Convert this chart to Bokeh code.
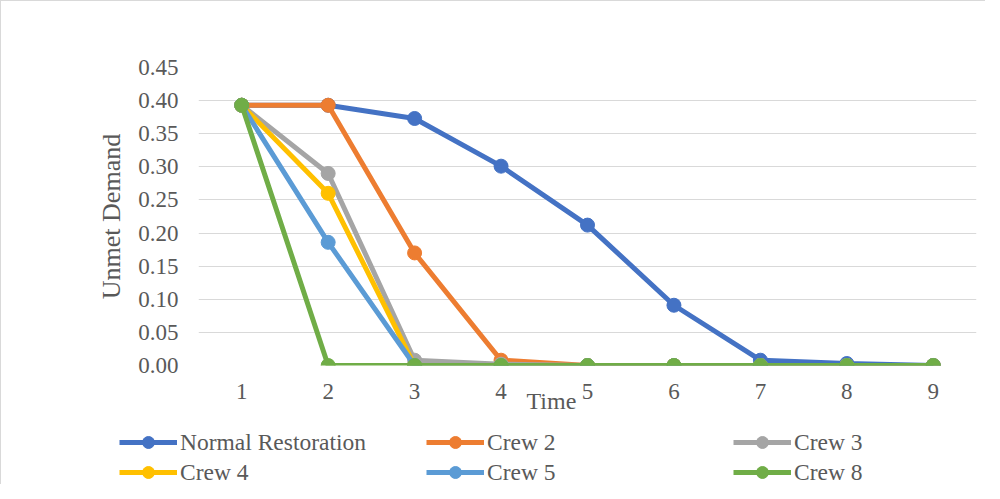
from bokeh.plotting import figure
from bokeh.layouts import column
from bokeh.models import Legend, LegendItem, FixedTicker, Range1d, ColumnDataSource, CustomJSTickFormatter, Title
from bokeh.embed import file_html
from bokeh.resources import INLINE

time = [1, 2, 3, 4, 5, 6, 7, 8, 9]
normal_restoration = [0.393, 0.393, 0.373, 0.301, 0.212, 0.091, 0.008, 0.003, 0.0]
crew_2 = [0.393, 0.393, 0.170, 0.008, 0.0, 0.0, 0.0, 0.0, 0.0]
crew_3 = [0.393, 0.290, 0.008, 0.002, 0.0, 0.0, 0.0, 0.0, 0.0]
crew_4 = [0.393, 0.260, 0.0, 0.0, 0.0, 0.0, 0.0, 0.0, 0.0]
crew_5 = [0.393, 0.186, 0.0, 0.0, 0.0, 0.0, 0.0, 0.0, 0.0]
crew_8 = [0.393, 0.0, 0.0, 0.0, 0.0, 0.0, 0.0, 0.0, 0.0]

series_names = ["Normal Restoration", "Crew 2", "Crew 3", "Crew 4", "Crew 5", "Crew 8"]
series_values = [normal_restoration, crew_2, crew_3, crew_4, crew_5, crew_8]
series_colors = ["#4472C4", "#ED7D31", "#A5A5A5", "#FFC000", "#5B9BD5", "#70AD47"]
y_ticks = [0.0, 0.05, 0.10, 0.15, 0.20, 0.25, 0.30, 0.35, 0.40, 0.45]

FONT = "Liberation Serif"
TEXT_COLOR = "#595959"
LINE_W = 5
MARKER = 14

# ---------------- main chart ----------------
p = figure(width=984, height=420, output_backend="svg", toolbar_location=None,
           x_range=Range1d(0.5, 9.5), y_range=Range1d(0, 0.45),
           min_border_left=197, min_border_right=9, min_border_top=66, min_border_bottom=56)
p.frame_align = False
p.outline_line_color = None
p.background_fill_color = "white"
p.border_fill_color = "white"

p.xgrid.grid_line_color = None
p.ygrid.grid_line_color = "#d9d9d9"
p.ygrid.grid_line_width = 1

p.yaxis.ticker = FixedTicker(ticks=y_ticks)
p.yaxis.formatter = CustomJSTickFormatter(code="return tick.toFixed(2);")
p.xaxis.ticker = FixedTicker(ticks=time)

for ax in (p.xaxis, p.yaxis):
    ax.axis_line_color = None
    ax.major_tick_line_color = None
    ax.minor_tick_line_color = None
    ax.major_tick_out = 0
    ax.major_tick_in = 0
    ax.minor_tick_out = 0
    ax.major_label_text_font = FONT
    ax.major_label_text_font_size = "23px"
    ax.major_label_text_color = TEXT_COLOR
    ax.axis_label_text_font = FONT
    ax.axis_label_text_color = TEXT_COLOR
    ax.axis_label_text_font_style = "normal"

p.yaxis.axis_label = "Unmet Demand"
p.yaxis.axis_label_text_font_size = "26px"
p.yaxis.major_label_standoff = 20
p.yaxis.axis_label_standoff = 9

p.xaxis.major_label_standoff = 18

p.add_layout(Title(text="Time", align="left", offset=328, vertical_align="top", standoff=-28,
                   text_font=FONT, text_font_size="24px", text_color=TEXT_COLOR,
                   text_font_style="normal"), "below")

for name, vals, color in zip(series_names, series_values, series_colors):
    src = ColumnDataSource(dict(x=time, y=vals))
    p.line("x", "y", source=src, line_color=color, line_width=LINE_W)
    p.scatter("x", "y", source=src, marker="circle", size=MARKER, fill_color=color, line_color=color)

# ---------------- legend strip ----------------
q = figure(width=984, height=63, output_backend="svg", toolbar_location=None,
           x_range=Range1d(0.5, 9.5), y_range=Range1d(10, 11),
           x_axis_location=None, y_axis_location=None,
           min_border_left=0, min_border_right=0, min_border_top=0, min_border_bottom=0)
q.frame_align = False
q.outline_line_color = None
q.xgrid.grid_line_color = None
q.ygrid.grid_line_color = None
q.border_fill_color = "white"
q.background_fill_color = "white"

items = []
for name, vals, color in zip(series_names, series_values, series_colors):
    src = ColumnDataSource(dict(x=time, y=vals))
    r1 = q.line("x", "y", source=src, line_color=color, line_width=LINE_W)
    r2 = q.scatter("x", "y", source=src, marker="circle", size=MARKER, fill_color=color, line_color=color)
    items.append(LegendItem(label=name, renderers=[r1, r2]))

col_x = [118, 425, 732]
for ci in range(3):
    leg = Legend(items=[items[ci], items[ci + 3]], location=(col_x[ci], -3),
                 glyph_width=58, glyph_height=30, spacing=0, padding=0, margin=0,
                 label_standoff=3, label_text_font=FONT, label_text_font_size="23.5px",
                 label_text_color=TEXT_COLOR, border_line_color=None, background_fill_alpha=0)
    q.add_layout(leg, "center")

layout = column(p, q, styles={"border-left": "1px solid #d9d9d9", "border-top": "1px solid #d9d9d9"})
open("out.html", "w").write(file_html(layout, INLINE))
